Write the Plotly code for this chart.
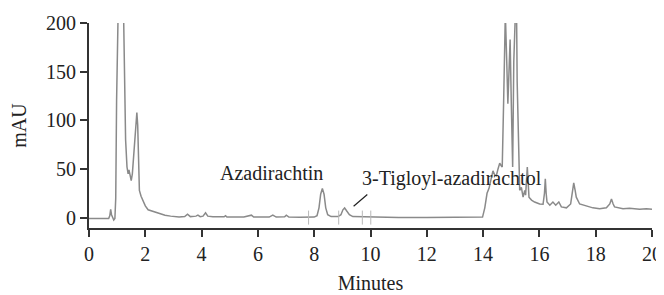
import plotly.graph_objects as go

time_min = [0.0, 0.5, 0.70, 0.74, 0.77, 0.80, 0.84, 0.88, 0.92, 0.95, 0.98, 1.01, 1.10, 1.20, 1.23,
            1.26, 1.30, 1.35, 1.39, 1.42, 1.46, 1.50, 1.54, 1.60, 1.66, 1.70, 1.73, 1.76, 1.79, 1.85,
            1.92, 2.0, 2.1, 2.2, 2.35, 2.5, 2.7, 2.9, 3.2, 3.4, 3.5, 3.6, 3.8, 3.87, 3.95, 4.05, 4.14,
            4.22, 4.4, 4.8, 4.85, 4.9, 5.5, 5.77, 5.85, 6.4, 6.53, 6.65, 6.95, 7.01, 7.1, 7.5, 7.8,
            8.0, 8.1, 8.17, 8.23, 8.29, 8.35, 8.41, 8.48, 8.6, 8.85, 8.95, 9.02, 9.08, 9.15, 9.25,
            9.37, 9.6, 10.0, 10.2, 11.0, 12.0, 13.0, 13.98, 14.06, 14.14, 14.21, 14.28, 14.35, 14.41,
            14.47, 14.53, 14.59, 14.65, 14.68, 14.73, 14.79, 14.84, 14.88, 14.92, 14.96, 15.00, 15.05,
            15.09, 15.12, 15.15, 15.18, 15.21, 15.24, 15.30, 15.36, 15.42, 15.48, 15.51, 15.57, 15.63, 15.72,
            15.83, 16.01, 16.13, 16.18, 16.21, 16.24, 16.27, 16.37, 16.48, 16.58, 16.69, 16.78, 16.96,
            17.11, 17.17, 17.22, 17.27, 17.31, 17.43, 17.67, 17.9, 18.14, 18.38, 18.50, 18.56, 18.62,
            18.67, 18.97, 19.2, 19.56, 19.8, 20.0]

absorbance_mau = [-1, -1, -1, 2, 8.5, 3, -1, -2.5, -1, 20, 120, 260, 320, 260, 200,
                  120, 80, 52, 45, 49, 44, 38, 45, 70, 100, 108, 95, 50, 28, 22,
                  17, 12, 8, 7, 6, 4, 2.5, 1.5, 0.5, 1, 3.5, 1, 1.5, 2.5, 1, 1.5, 5,
                  1.5, 0.8, 0.8, 2, 0.6, 0.5, 2.5, 0.5, 0.5, 2.5, 0.5, 0.8, 2.5, 0.5, 0.3, 0.3,
                  0.5, 2, 10, 24, 30, 24, 10, 3, 1, 1, 3, 8, 10, 7, 3,
                  1, 0.8, 1, 0.5, 0.2, 0, 0, 0.5, 10, 25, 30, 40, 48, 44,
                  43, 50, 56, 53, 52, 120, 210, 160, 117, 150, 183, 120, 52,
                  160, 240, 215, 240, 140, 97, 28, 31, 21, 28, 23, 52, 21, 18,
                  16, 14, 13.7, 25, 40, 25, 16, 12.7, 16, 12.7, 16, 11, 10,
                  14, 25, 35.7, 28, 21, 14, 11.7, 10, 9, 10, 14, 19, 14,
                  11, 9, 9.5, 8.5, 9, 8.5]

integration_marks = [7.80, 8.87, 9.71, 10.01]
integration_level = [0, 0, 0, 0]

x_ticks = [0, 2, 4, 6, 8, 10, 12, 14, 16, 18, 20]
y_ticks = [0, 50, 100, 150, 200]

font_family = "'Liberation Serif', 'Times New Roman', serif"
axis_color = "#333333"
text_font = dict(family=font_family, size=20, color="#222222")

fig = go.Figure()
fig.add_trace(go.Scatter(
    x=time_min, y=absorbance_mau, mode="lines",
    line=dict(color="#8a8a8a", width=1.5),
    showlegend=False, hoverinfo="skip"))
fig.add_trace(go.Scatter(
    x=integration_marks, y=integration_level, mode="markers",
    marker=dict(symbol="line-ns", size=10, line=dict(color="#b8b8b8", width=1)),
    showlegend=False, hoverinfo="skip"))

fig.add_annotation(x=4.57, y=45.7, xref="x", yref="y", text="Azadirachtin",
                   showarrow=False, xanchor="left", yanchor="middle", font=text_font)
fig.add_annotation(x=9.63, y=40.5, xref="x", yref="y", text="3-Tigloyl-azadirachtol",
                   showarrow=False, xanchor="left", yanchor="middle", font=text_font)
fig.add_annotation(x=9.40, y=11.6, xref="x", yref="y", ax=9.94, ay=25, axref="x", ayref="y",
                   text="", showarrow=True, arrowhead=0, arrowwidth=1.2, arrowcolor="#222222")

fig.update_layout(
    width=656, height=287,
    margin=dict(l=81, r=12, t=15, b=67),
    paper_bgcolor="white", plot_bgcolor="white",
    font=text_font,
    xaxis=dict(range=[0, 20], tickvals=x_ticks, ticks="outside", ticklen=7, tickwidth=1.5,
               tickcolor=axis_color, showline=True, linewidth=2, linecolor=axis_color,
               showgrid=False, zeroline=False, automargin=False, tickfont=text_font,
               title=dict(text="Minutes", standoff=12, font=text_font)),
    yaxis=dict(range=[-10.7, 200], tickvals=y_ticks, ticks="outside", ticklen=7, tickwidth=1.5,
               tickcolor=axis_color, showline=True, linewidth=2, linecolor=axis_color,
               showgrid=False, zeroline=False, automargin=False, tickfont=text_font,
               title=dict(text="mAU", standoff=18, font=text_font)),
)

fig.write_html("out.html")
